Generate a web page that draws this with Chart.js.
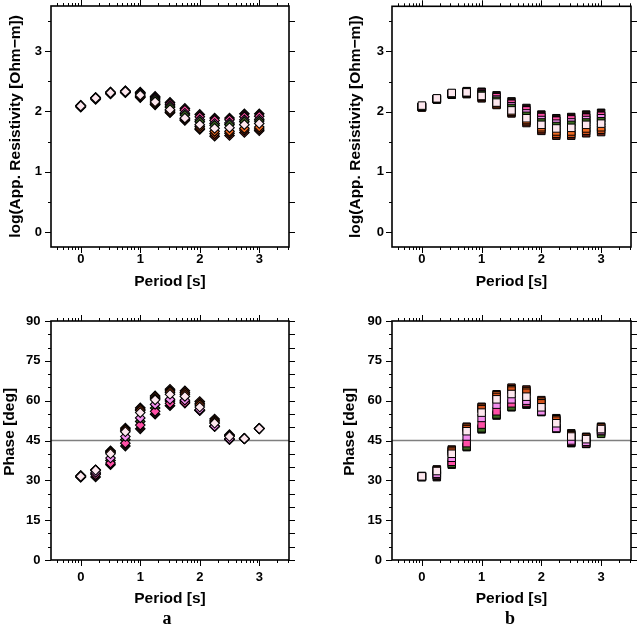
<!DOCTYPE html>
<html><head><meta charset="utf-8">
<script src="https://cdn.jsdelivr.net/npm/chart.js@4.4.0/dist/chart.umd.min.js"></script>
<style>
html,body{margin:0;padding:0;background:#fff;width:638px;height:628px;overflow:hidden;}
canvas{position:absolute;}
.lab{position:absolute;font-family:"Liberation Serif","Times New Roman",serif;font-weight:bold;font-size:18px;line-height:20px;color:#000;transform:translateX(-50%);}
</style></head><body>
<canvas id="pa" width="319" height="300" style="left:0;top:0"></canvas>
<canvas id="pb" width="319" height="300" style="left:319px;top:0"></canvas>
<canvas id="pc" width="319" height="310" style="left:0;top:300px"></canvas>
<canvas id="pd" width="319" height="310" style="left:319px;top:300px"></canvas>
<div class="lab" style="left:167px;top:608px">a</div>
<div class="lab" style="left:510px;top:608px">b</div>
<script>
// ---------- data ----------
const periods = [0, 0.25, 0.5, 0.75, 1, 1.25, 1.5, 1.75, 2, 2.25, 2.5, 2.75, 3];
const periodTicks = [0, 1, 2, 3];
const rhoTicks = [0, 1, 2, 3];
const phaseTicks = [0, 15, 30, 45, 60, 75, 90];

// panel a : log apparent resistivity (diamonds)
const rhoA_black   = [2.10, 2.23, 2.32, 2.34, 2.32, 2.25, 2.15, 2.05, 1.95, 1.89, 1.89, 1.96, 1.96];
const rhoA_pink    = [2.10, 2.23, 2.32, 2.34, 2.31, 2.23, 2.12, 2.02, 1.91, 1.85, 1.86, 1.91, 1.92];
const rhoA_violet  = [2.09, 2.22, 2.31, 2.33, 2.30, 2.21, 2.09, 1.97, 1.86, 1.80, 1.81, 1.86, 1.87];
const rhoA_green   = [2.09, 2.22, 2.31, 2.33, 2.29, 2.19, 2.07, 1.94, 1.83, 1.77, 1.78, 1.83, 1.84];
const rhoA_white   = [2.09, 2.22, 2.31, 2.33, 2.27, 2.16, 2.03, 1.89, 1.78, 1.72, 1.73, 1.78, 1.80];
const rhoA_orange  = [2.09, 2.22, 2.31, 2.32, 2.25, 2.14, 2.01, 1.88, 1.75, 1.67, 1.67, 1.72, 1.74];
const rhoA_dkorange= [2.08, 2.21, 2.30, 2.32, 2.24, 2.12, 1.99, 1.86, 1.72, 1.63, 1.64, 1.69, 1.71];
const rhoA_darkred = [2.07, 2.20, 2.29, 2.31, 2.23, 2.11, 1.98, 1.85, 1.70, 1.59, 1.60, 1.65, 1.68];

// panel b : log apparent resistivity (squares)
const rhoB_black   = [2.08, 2.21, 2.30, 2.34, 2.33, 2.27, 2.17, 2.06, 1.95, 1.89, 1.91, 1.95, 1.98];
const rhoB_pink    = [2.08, 2.21, 2.30, 2.33, 2.31, 2.24, 2.13, 2.02, 1.91, 1.85, 1.87, 1.90, 1.93];
const rhoB_violet  = [2.08, 2.21, 2.30, 2.33, 2.29, 2.20, 2.09, 1.97, 1.86, 1.80, 1.82, 1.86, 1.89];
const rhoB_green   = [2.08, 2.21, 2.30, 2.32, 2.28, 2.18, 2.06, 1.93, 1.82, 1.76, 1.78, 1.82, 1.84];
const rhoB_white   = [2.10, 2.22, 2.31, 2.32, 2.26, 2.15, 2.02, 1.89, 1.78, 1.72, 1.73, 1.78, 1.80];
const rhoB_orange  = [2.08, 2.21, 2.29, 2.31, 2.25, 2.14, 2.00, 1.86, 1.74, 1.67, 1.67, 1.72, 1.74];
const rhoB_dkorange= [2.07, 2.21, 2.29, 2.30, 2.24, 2.12, 1.99, 1.84, 1.71, 1.63, 1.63, 1.68, 1.70];
const rhoB_darkred = [2.07, 2.20, 2.28, 2.29, 2.22, 2.11, 1.97, 1.81, 1.68, 1.60, 1.60, 1.64, 1.66];

// panel a (lower) : phase (diamonds)
const phA_darkred  = [31.8, 34.0, 41.1, 49.7, 57.3, 61.8, 64.3, 63.7, 59.7, 53.1, 47.2, 45.8, 49.6];
const phA_orange   = [31.7, 33.9, 40.8, 49.3, 56.8, 61.3, 63.7, 63.0, 59.0, 52.5, 46.9, 45.8, 49.6];
const phA_dkorange = [31.6, 33.8, 40.5, 48.9, 56.3, 60.8, 63.2, 62.4, 58.4, 52.0, 46.7, 45.7, 49.5];
const phA_white    = [31.5, 33.8, 40.0, 48.3, 55.5, 60.3, 62.4, 61.6, 57.6, 51.5, 46.5, 45.7, 49.5];
const phA_violet   = [31.4, 33.0, 38.4, 46.5, 53.5, 58.6, 60.5, 60.2, 56.6, 50.4, 45.6, 45.7, 49.5];
const phA_green    = [31.3, 32.6, 37.5, 45.3, 52.2, 57.2, 59.9, 59.8, 56.4, 50.4, 45.5, 45.7, 49.5];
const phA_pink     = [31.3, 32.2, 36.5, 44.0, 50.8, 56.0, 59.0, 59.3, 56.3, 50.3, 45.4, 45.7, 49.5];
const phA_black    = [31.2, 31.3, 35.9, 42.9, 49.4, 54.9, 58.1, 59.1, 56.3, 50.3, 45.4, 45.7, 49.4];

// panel b (lower) : phase (squares)
const phB_darkred  = [31.6, 34.1, 41.6, 50.2, 57.7, 62.4, 64.9, 64.2, 60.2, 53.4, 47.7, 46.4, 50.2];
const phB_orange   = [31.6, 33.9, 41.2, 49.8, 57.3, 62.0, 64.3, 63.6, 59.6, 53.0, 47.3, 46.2, 50.0];
const phB_dkorange = [31.5, 33.7, 40.8, 49.3, 56.8, 61.4, 63.8, 63.0, 59.0, 52.5, 47.0, 46.0, 49.8];
const phB_white    = [31.5, 33.5, 40.0, 48.5, 55.5, 60.5, 62.5, 61.5, 57.5, 51.5, 46.5, 45.5, 49.3];
const phB_violet   = [31.4, 32.5, 38.5, 46.5, 53.5, 58.5, 60.5, 60.0, 56.0, 49.7, 45.0, 44.5, 48.8];
const phB_pink     = [31.3, 32.0, 37.0, 44.0, 51.0, 56.0, 59.0, 59.3, 56.2, 50.0, 44.5, 44.0, 48.5];
const phB_green    = [31.3, 31.8, 36.3, 42.8, 49.6, 54.8, 57.8, 58.8, 55.9, 49.8, 44.2, 43.8, 47.5];
const phB_black    = [31.2, 31.2, 35.9, 42.5, 49.2, 54.4, 57.5, 58.5, 55.7, 49.4, 44.0, 43.7, 48.0];

// ---------- style ----------
const COL = {
  black: '#1a0a0a', darkred: '#6a2014', orange: '#f26b22', dkorange: '#d4521c',
  white: '#fde7ee', violet: '#f48fee', pink: '#ff4fa6', green: '#3d6b22'
};
const SANS = '"Liberation Sans", Arial, Helvetica, sans-serif';

function ds(vals, color, shape, r, bw) {
  return {
    data: periods.map((p, i) => ({x: p, y: vals[i]})),
    backgroundColor: COL[color], borderColor: '#000', borderWidth: bw,
    pointStyle: shape, pointRadius: r, pointHoverRadius: r, showLine: false
  };
}

const framePlugin = {
  id: 'frame',
  beforeDatasetsDraw(chart, args, opts) {
    if (opts.ref == null) return;
    const {ctx, chartArea: a, scales: {y}} = chart;
    const py = y.getPixelForValue(opts.ref);
    ctx.save();
    ctx.strokeStyle = '#7f7f7f'; ctx.lineWidth = 1.5;
    ctx.beginPath(); ctx.moveTo(a.left, py); ctx.lineTo(a.right, py); ctx.stroke();
    ctx.restore();
  },
  afterDraw(chart, args, opts) {
    const {ctx, chartArea: a, scales: {x, y}} = chart;
    ctx.save();
    ctx.strokeStyle = '#000'; ctx.lineWidth = 1;
    ctx.beginPath();
    for (let d = -1; d <= 3; d++) {
      for (let m = 1; m <= 9; m++) {
        const v = d + Math.log10(m);
        if (v < x.min - 1e-9 || v > x.max + 1e-9) continue;
        const px = Math.round(x.getPixelForValue(v)) + 0.5;
        const len = m === 1 ? 6 : 3;
        ctx.moveTo(px, a.bottom); ctx.lineTo(px, a.bottom + len);
        ctx.moveTo(px, a.top); ctx.lineTo(px, a.top - len);
      }
    }
    const step = opts.minor, major = opts.major;
    const i0 = Math.ceil(y.min / step - 1e-9), i1 = Math.floor(y.max / step + 1e-9);
    for (let i = i0; i <= i1; i++) {
      const v = i * step;
      const py = Math.round(y.getPixelForValue(v)) + 0.5;
      const isMaj = Math.abs(v / major - Math.round(v / major)) < 1e-6;
      ctx.moveTo(a.left, py); ctx.lineTo(a.left - (isMaj ? 6 : 3), py);
      ctx.moveTo(a.right, py); ctx.lineTo(a.right + 6, py);
    }
    ctx.stroke();
    ctx.lineWidth = 1.6;
    ctx.strokeRect(a.left, a.top, a.right - a.left, a.bottom - a.top);
    ctx.restore();
  }
};

function makePanel(id, p) {
  new Chart(document.getElementById(id), {
    type: 'scatter',
    data: {datasets: p.datasets},
    plugins: [framePlugin],
    options: {
      responsive: false, animation: false, events: [],
      layout: {padding: {top: p.top, right: p.right, left: 0, bottom: 0}},
      plugins: {
        legend: {display: false}, tooltip: {enabled: false},
        frame: {ref: p.ref, minor: p.yMinor, major: p.yMajor}
      },
      scales: {
        x: {
          type: 'linear', position: 'bottom', min: -0.5, max: 3.5,
          afterBuildTicks: s => { s.ticks = periodTicks.map(v => ({value: v})); },
          afterFit: s => { s.height = p.xH; s.paddingLeft = 0; s.paddingRight = 0; },
          grid: {display: false, drawTicks: false}, border: {display: false},
          ticks: {padding: p.xTickPad, color: '#000', font: {family: SANS, size: 13, weight: 'bold'}, callback: v => String(v)},
          title: {display: true, text: 'Period [s]', color: '#000', font: {family: SANS, size: 15.5, weight: 'bold'}, padding: {top: 0, bottom: p.xTitlePad}}
        },
        y: {
          type: 'linear', position: 'left', min: p.yMin, max: p.yMax,
          afterBuildTicks: s => { s.ticks = p.yTicks.map(v => ({value: v})); },
          afterFit: s => { s.width = p.yW; s.paddingTop = 0; s.paddingBottom = 0; },
          grid: {display: false, drawTicks: false}, border: {display: false},
          ticks: {padding: p.yTickPad, color: '#000', autoSkip: false, font: {family: SANS, size: 13, weight: 'bold'}, callback: v => String(v)},
          title: {display: true, text: p.yTitle, color: '#000', font: {family: SANS, size: 15.5, weight: 'bold'}, padding: {top: p.yTitlePad, bottom: 0}}
        }
      }
    }
  });
}

const D = (s, r, bw) => (arr, c) => ds(arr, c, s, r, bw);
const dia = D('rectRot', 4.8, 1.1);
const sq = D('rect', 5.3, 1.0);

makePanel('pa', {
  datasets: [dia(rhoA_white,'white'), dia(rhoA_green,'green'), dia(rhoA_violet,'violet'), dia(rhoA_orange,'orange'),
             dia(rhoA_pink,'pink'), dia(rhoA_dkorange,'dkorange'), dia(rhoA_darkred,'darkred'), dia(rhoA_black,'black')],
  top: 6, right: 30, yW: 51, xH: 53, yMin: -0.25, yMax: 3.75, yTicks: rhoTicks, yMinor: 0.5, yMajor: 1,
  yTitle: 'log(App. Resistivity [Ohm\u2212m])', yTitlePad: 6.7, yTickPad: 9, xTickPad: 5, xTitlePad: 8.7, ref: null
});
makePanel('pb', {
  datasets: [sq(rhoB_white,'white'), sq(rhoB_green,'green'), sq(rhoB_violet,'violet'), sq(rhoB_orange,'orange'),
             sq(rhoB_pink,'pink'), sq(rhoB_dkorange,'dkorange'), sq(rhoB_darkred,'darkred'), sq(rhoB_black,'black')],
  top: 6, right: 7, yW: 73, xH: 53, yMin: -0.25, yMax: 3.75, yTicks: rhoTicks, yMinor: 0.5, yMajor: 1,
  yTitle: 'log(App. Resistivity [Ohm\u2212m])', yTitlePad: 27.7, yTickPad: 8, xTickPad: 5, xTitlePad: 9, ref: null
});
makePanel('pc', {
  datasets: [dia(phA_white,'white'), dia(phA_violet,'violet'), dia(phA_pink,'pink'), dia(phA_green,'green'), dia(phA_dkorange,'dkorange'),
             dia(phA_orange,'orange'), dia(phA_black,'black'), dia(phA_darkred,'darkred')],
  top: 21, right: 30, yW: 51, xH: 50, yMin: 0, yMax: 90, yTicks: phaseTicks, yMinor: 5, yMajor: 15,
  yTitle: '    Phase [deg]', yTitlePad: 0, yTickPad: 10.5, xTickPad: 9.5, xTitlePad: 2.4, ref: 45
});
makePanel('pd', {
  datasets: [sq(phB_white,'white'), sq(phB_violet,'violet'), sq(phB_pink,'pink'), sq(phB_dkorange,'dkorange'),
             sq(phB_orange,'orange'), sq(phB_green,'green'), sq(phB_black,'black'), sq(phB_darkred,'darkred')],
  top: 21, right: 7, yW: 73, xH: 50, yMin: 0, yMax: 90, yTicks: phaseTicks, yMinor: 5, yMajor: 15,
  yTitle: '    Phase [deg]', yTitlePad: 21.7, yTickPad: 10, xTickPad: 9.5, xTitlePad: 2.4, ref: 45
});
</script>
</body></html>
